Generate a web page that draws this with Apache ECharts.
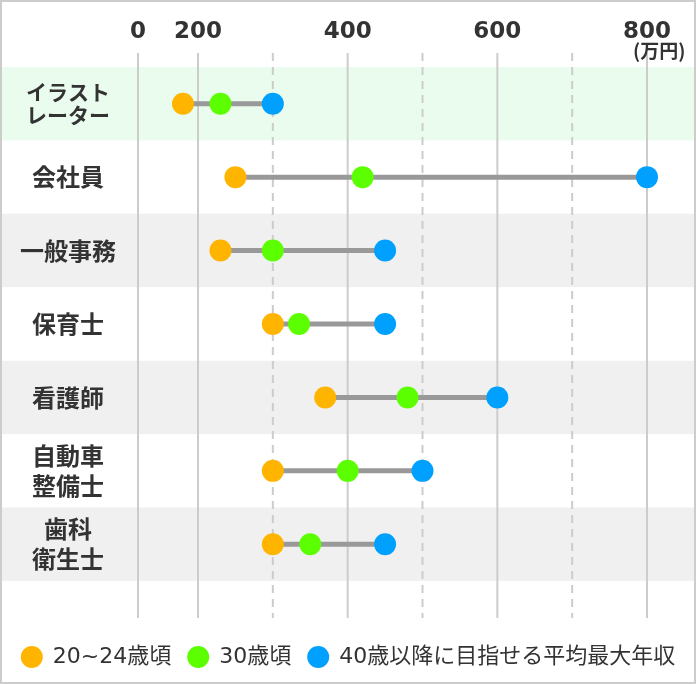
<!DOCTYPE html>
<html><head><meta charset="utf-8">
<script src="https://cdn.jsdelivr.net/npm/echarts@6/dist/echarts.min.js"></script>
<style>html,body{margin:0;padding:0;background:#fff}#c{width:696px;height:684px}</style>
</head><body><div id="c"></div>
<script>
// ---- data ----
const categories = ['イラスト\nレーター', '会社員', '一般事務', '保育士', '看護師', '自動車\n整備士', '歯科\n衛生士'];
const age20to24 = [150, 250, 230, 300, 370, 300, 300];
const age30 = [230, 420, 300, 335, 480, 400, 350];
const age40max = [300, 800, 450, 450, 600, 500, 450];
const seriesNames = ['20~24歳頃', '30歳頃', '40歳以降に目指せる平均最大年収'];
const tickValues = [0, 200, 400, 600, 800];
const solidLineValues = [0, 200, 400, 600, 800];
const dashedLineValues = [300, 500, 700];
const unitLabel = '(万円)';

// ---- axis scale: linear from 200 up, the 0–200 span is squeezed ----
const BREAK = 200, SQUEEZE = 0.4009;
function toAxis(v) { return v >= BREAK ? v : BREAK - (BREAK - v) * SQUEEZE; }
function fromAxis(u) { return u >= BREAK ? u : BREAK - (BREAK - u) / SQUEEZE; }

// ---- layout ----
const W = 696, PAD = 2, X_AT_0 = 138, X_AT_800 = 647;
const pxPerU = (X_AT_800 - X_AT_0) / (toAxis(800) - toAxis(0));
const axisMin = toAxis(0) - (X_AT_0 - PAD) / pxPerU;
const axisMax = toAxis(800) + (W - PAD - X_AT_800) / pxPerU;

const LATIN = "'DejaVu Sans','Noto Sans CJK JP',sans-serif";
const CJK = "'Noto Sans CJK JP','DejaVu Sans',sans-serif";
const colors = ['#ffb400', '#5cff00', '#00a0ff'];

const catData = categories.map((c, i) => i === 0
  ? { value: c, textStyle: { fontSize: 21, lineHeight: 23, align: 'center', fontWeight: 'bold', color: '#333', fontFamily: CJK } }
  : c);

function vLine(dash) {
  return function (params, api) {
    const x = api.coord([api.value(0), 0])[0];
    const cs = params.coordSys;
    return {
      type: 'line',
      shape: { x1: x, y1: cs.y, x2: x, y2: cs.y + cs.height },
      style: { stroke: '#cccccc', lineWidth: 2, lineDash: dash }
    };
  };
}

const option = {
  backgroundColor: '#fff',
  animation: false,
  grid: [
    { left: PAD, right: PAD, top: 53, bottom: 66 },
    { left: PAD, right: PAD, top: 67, bottom: 103 }
  ],
  xAxis: [
    {
      type: 'value', gridIndex: 0, position: 'top', min: axisMin, max: axisMax,
      axisLine: { show: false }, axisTick: { show: false }, splitLine: { show: false },
      axisLabel: {
        customValues: tickValues.map(toAxis),
        formatter: u => String(Math.round(fromAxis(u))),
        fontSize: 23, fontWeight: 'bold', color: '#333', fontFamily: LATIN, margin: 9
      }
    },
    { type: 'value', gridIndex: 1, min: axisMin, max: axisMax, show: false }
  ],
  yAxis: [
    { type: 'value', gridIndex: 0, min: 0, max: 1, show: false },
    {
      type: 'category', gridIndex: 1, data: catData, inverse: true,
      axisLine: { show: false }, axisTick: { show: false }, splitLine: { show: false },
      splitArea: { show: true, areaStyle: { color: ['#eafcee', '#ffffff', '#f0f0f0', '#ffffff', '#f0f0f0', '#ffffff', '#f0f0f0'] } },
      axisLabel: {
        inside: true, align: 'center', margin: 66,
        fontSize: 24, lineHeight: 30, fontWeight: 'bold', color: '#333', fontFamily: CJK
      }
    }
  ],
  legend: {
    data: seriesNames, top: 641, left: 'center', icon: 'circle',
    itemWidth: 22, itemHeight: 22, itemGap: 16,
    textStyle: { fontSize: 22, color: '#333', fontFamily: LATIN, padding: [0, 0, 0, 5] }
  },
  graphic: [
    { type: 'rect', shape: { x: 1, y: 1, width: 694, height: 682 }, style: { fill: 'none', stroke: '#cccccc', lineWidth: 2 }, z: 100, silent: true },
    { type: 'text', left: 633, top: 41, style: { text: unitLabel, font: "bold 19px 'Noto Sans CJK JP','DejaVu Sans',sans-serif", fill: '#333' }, z: 100 }
  ],
  series: [
    {
      type: 'custom', name: 'solid', xAxisIndex: 0, yAxisIndex: 0, silent: true, z: 1,
      renderItem: vLine(null), data: solidLineValues.map(v => [toAxis(v), 0])
    },
    {
      type: 'custom', name: 'dashed', xAxisIndex: 0, yAxisIndex: 0, silent: true, z: 1,
      renderItem: vLine([8, 6]), data: dashedLineValues.map(v => [toAxis(v), 0])
    },
    {
      type: 'custom', name: 'range', xAxisIndex: 1, yAxisIndex: 1, silent: true, z: 3,
      encode: { x: [0, 1], y: 2 },
      renderItem: function (params, api) {
        const p1 = api.coord([api.value(0), api.value(2)]);
        const p2 = api.coord([api.value(1), api.value(2)]);
        return { type: 'line', shape: { x1: p1[0], y1: p1[1], x2: p2[0], y2: p2[1] }, style: { stroke: '#999999', lineWidth: 5 } };
      },
      data: categories.map((c, i) => [toAxis(age20to24[i]), toAxis(age40max[i]), i])
    },
    ...[age20to24, age30, age40max].map((arr, k) => ({
      type: 'scatter', name: seriesNames[k], xAxisIndex: 1, yAxisIndex: 1, z: 4 + k,
      symbol: 'circle', symbolSize: 22, itemStyle: { color: colors[k], opacity: 1 },
      data: arr.map((v, i) => [toAxis(v), i])
    }))
  ]
};
echarts.init(document.getElementById('c')).setOption(option);
</script>
</body></html>
